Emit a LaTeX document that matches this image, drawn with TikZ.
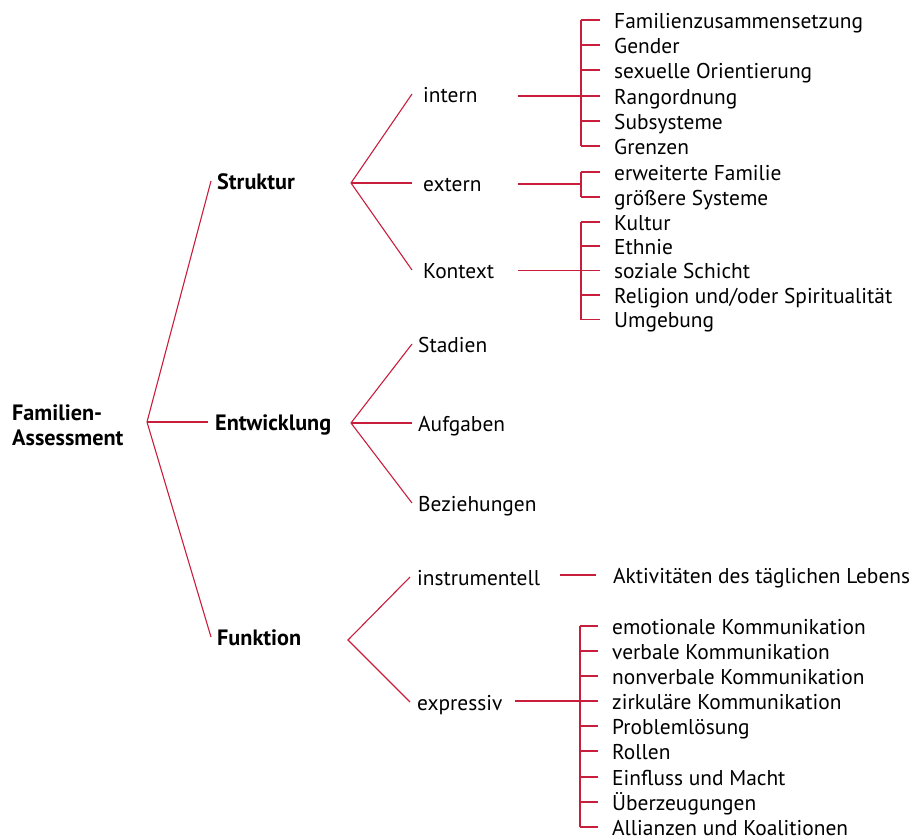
\documentclass[tikz,border=0pt]{standalone}
\usepackage{fontspec}
\setmainfont{PT Sans}
\definecolor{lc}{RGB}{200,30,60}
\begin{document}
\begin{tikzpicture}[x=1pt,y=-1pt,
  txt/.style={font=\fontsize{21.4}{25}\selectfont, inner ysep=0pt, anchor=west},
  lab/.style={txt, text height=16.5pt, text depth=0pt, inner xsep=#1},
  lab/.default=6pt,
  bld/.style={lab=#1, font=\fontsize{22.2}{25}\selectfont\bfseries},
  bld/.default=6pt,
  leaf/.style={lab=14pt},
  con/.style={draw=lc, line width=1.1pt}]
\useasboundingbox (0,0) rectangle (915,840);

% root
\node[txt, align=left, inner xsep=0pt, font=\fontsize{22.2}{25}\selectfont\bfseries] (root) at (12,425) {Familien-\\Assessment};
\coordinate (R) at (147,422);

% level 1
\node[bld=6pt] (struk) at (211,181) {Struktur};
\node[bld=7pt] (entw) at (208,422) {Entwicklung};
\node[bld=6pt] (funk) at (211,637) {Funktion};
\draw[con] (struk.west) -- (R) -- (funk.west);
\draw[con] (R) -- (entw.west);

% Struktur
\coordinate (S) at (351,183);
\node[lab=11pt] (intern) at (412,94) {intern};
\node[lab=11pt] (extern) at (412,183) {extern};
\node[lab=11pt] (kontext) at (412,270) {Kontext};
\draw[con] (intern.west) -- (S) -- (kontext.west);
\draw[con] (S) -- (extern.west);

% Entwicklung
\coordinate (E) at (351,423);
\node[lab] (stad) at (412,344) {Stadien};
\node[lab] (aufg) at (412,423) {Aufgaben};
\node[lab] (bez) at (412,503) {Beziehungen};
\draw[con] (stad.west) -- (E) -- (bez.west);
\draw[con] (E) -- (aufg.west);

% Funktion
\coordinate (F) at (348,640);
\node[lab=7pt] (instr) at (410,577) {instrumentell};
\node[lab=7pt] (expr) at (410,702) {expressiv};
\draw[con] (instr.west) -- (F) -- (expr.west);

% bar x positions
\coordinate (bar) at (581,0);
\coordinate (barE) at (580,0);

% intern leaves
\node[leaf] (i1) at (600,20) {Familienzusammensetzung};
\node[leaf] (i2) at (600,45) {Gender};
\node[leaf] (i3) at (600,70) {sexuelle Orientierung};
\node[leaf] (i4) at (600,96) {Rangordnung};
\node[leaf] (i5) at (600,121) {Subsysteme};
\node[leaf] (i6) at (600,146) {Grenzen};
\coordinate (iS) at (518,96);
\draw[con] (iS) -- (i4.west);
\draw[con] (i1.west -| bar) -- (i6.west -| bar);
\foreach \n in {i1,i2,i3,i4,i5,i6} \draw[con] (\n.west -| bar) -- (\n.west);

% extern leaves
\node[leaf] (e1) at (600,172) {erweiterte Familie};
\node[leaf] (e2) at (600,197) {größere Systeme};
\coordinate (eS) at (518,184);
\draw[con] (eS) -- (eS -| bar);
\draw[con] (e1.west -| bar) -- (e2.west -| bar);
\foreach \n in {e1,e2} \draw[con] (\n.west -| bar) -- (\n.west);

% Kontext leaves
\node[leaf] (k1) at (600,222) {Kultur};
\node[leaf] (k2) at (600,246) {Ethnie};
\node[leaf] (k3) at (600,270.5) {soziale Schicht};
\node[leaf] (k4) at (600,295) {Religion und/oder Spiritualität};
\node[leaf] (k5) at (600,319.5) {Umgebung};
\coordinate (kS) at (518,270.5);
\draw[con] (kS) -- (k3.west);
\draw[con] (k1.west -| bar) -- (k5.west -| bar);
\foreach \n in {k1,k2,k3,k4,k5} \draw[con] (\n.west -| bar) -- (\n.west);

% instrumentell leaf
\node[lab=17pt] (akt) at (596,575) {Aktivitäten des täglichen Lebens};
\coordinate (aS) at (560,575);
\draw[con] (aS) -- (akt.west);

% expressiv leaves
\node[leaf] (x1) at (598,626) {emotionale Kommunikation};
\node[leaf] (x2) at (598,651) {verbale Kommunikation};
\node[leaf] (x3) at (598,676) {nonverbale Kommunikation};
\node[leaf] (x4) at (598,701) {zirkuläre Kommunikation};
\node[leaf] (x5) at (598,726) {Problemlösung};
\node[leaf] (x6) at (598,751) {Rollen};
\node[leaf] (x7) at (598,777) {Einfluss und Macht};
\node[leaf] (x8) at (598,802) {Überzeugungen};
\node[leaf] (x9) at (598,827) {Allianzen und Koalitionen};
\coordinate (xS) at (515,701);
\draw[con] (xS) -- (x4.west);
\draw[con] (x1.west -| barE) -- (x9.west -| barE);
\foreach \n in {x1,x2,x3,x4,x5,x6,x7,x8,x9} \draw[con] (\n.west -| barE) -- (\n.west);
\end{tikzpicture}
\end{document}
